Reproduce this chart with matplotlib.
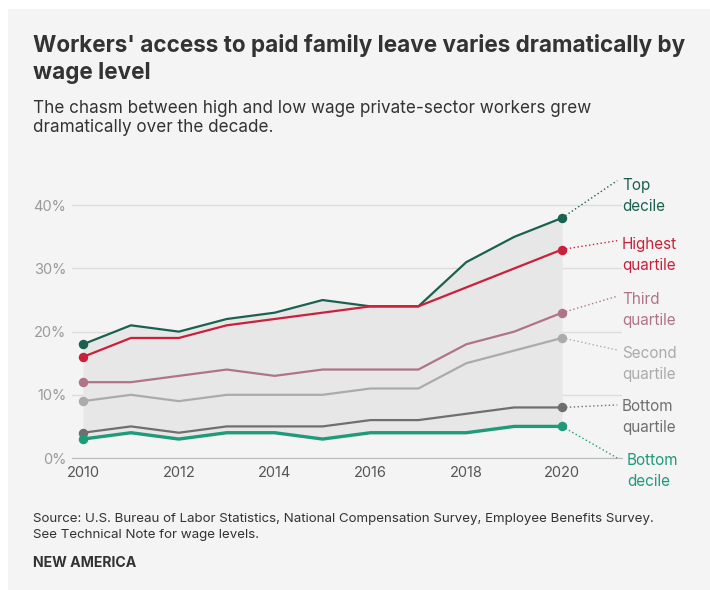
import matplotlib.pyplot as plt
from matplotlib.patches import Rectangle

years = [2010, 2011, 2012, 2013, 2014, 2015, 2016, 2017, 2018, 2019, 2020]

top_decile = [18, 21, 20, 22, 23, 25, 24, 24, 31, 35, 38]
highest_quartile = [16, 19, 19, 21, 22, 23, 24, 24, 27, 30, 33]
third_quartile = [12, 12, 13, 14, 13, 14, 14, 14, 18, 20, 23]
second_quartile = [9, 10, 9, 10, 10, 10, 11, 11, 15, 17, 19]
bottom_quartile = [4, 5, 4, 5, 5, 5, 6, 6, 7, 8, 8]
bottom_decile = [3, 4, 3, 4, 4, 3, 4, 4, 4, 5, 5]

names = ["Top\ndecile", "Highest\nquartile", "Third\nquartile",
         "Second\nquartile", "Bottom\nquartile", "Bottom\ndecile"]
series = [top_decile, highest_quartile, third_quartile,
          second_quartile, bottom_quartile, bottom_decile]
colors = ["#1b6150", "#c9203b", "#b07487", "#ababab", "#6f6f6f", "#1f9a7a"]
widths = [1.6, 1.6, 1.6, 1.6, 1.6, 2.4]

plt.rcParams['font.family'] = ['Inter', 'DejaVu Sans']

fig = plt.figure(figsize=(7.1, 5.9), dpi=100)
fig.patches.append(Rectangle((8 / 710, 0), 1, 1 - 9 / 590, transform=fig.transFigure,
                             facecolor="#f4f4f4", edgecolor="none", zorder=-10))

# axes placed so that 0% sits at y=458px, x from 72px to 622px
ax = fig.add_axes([72 / 710, 132 / 590, 550 / 710, 278 / 590])
ax.set_facecolor("none")
ax.set_xlim(2009.77, 2021.25)
ax.set_ylim(0, 44)

ax.fill_between(years, bottom_decile, top_decile, color="#e7e7e7", lw=0, zorder=1)

for vals, c, w in zip(series, colors, widths):
    ax.plot(years, vals, color=c, lw=w, zorder=3)
    ax.plot([years[0], years[-1]], [vals[0], vals[-1]], 'o', color=c, ms=5.8, zorder=4)

# labels on the right with dotted leaders
label_y = [41.5, 32.2, 23.4, 14.8, 6.5, -2.1]
leader_end = [43.9, 34.4, 25.6, 17.1, 8.4, 0.0]
for vals, c, name, ly, le, i in zip(series, colors, names, label_y, leader_end, range(6)):
    lx = 2021.25 if i < 5 else 2021.35
    ax.plot([years[-1], 2021.15], [vals[-1], le], ls=(0, (1, 1.8)), color=c, lw=1.0,
            clip_on=False, zorder=4)
    ax.text(lx, ly, name, color=c, fontsize=11, va="center", ha="left",
            linespacing=1.5, clip_on=False)

ax.set_yticks([0, 10, 20, 30, 40])
ax.set_yticklabels(["0%", "10%", "20%", "30%", "40%"])
ax.set_xticks([2010, 2012, 2014, 2016, 2018, 2020])
ax.grid(axis="y", color="#dddddd", lw=1)
ax.set_axisbelow(True)
for s in ["top", "right", "left"]:
    ax.spines[s].set_visible(False)
ax.spines["bottom"].set_color("#bbbbbb")
ax.tick_params(axis="y", length=0, pad=4, labelcolor="#9a9a9a", labelsize=10.5)
ax.tick_params(axis="x", length=0, pad=6, labelcolor="#555555", labelsize=10.5)

fig.text(33 / 710, 1 - 59 / 590, "Workers' access to paid family leave varies dramatically by\nwage level",
         fontsize=16.2, fontweight="bold", color="#333333", va="center", linespacing=1.25)
fig.text(33 / 710, 1 - 118 / 590, "The chasm between high and low wage private-sector workers grew\ndramatically over the decade.",
         fontsize=12.3, color="#333333", va="center", linespacing=1.2)
fig.text(33 / 710, 1 - 527 / 590, "Source: U.S. Bureau of Labor Statistics, National Compensation Survey, Employee Benefits Survey.\nSee Technical Note for wage levels.",
         fontsize=9.6, color="#333333", va="center", linespacing=1.35)
fig.text(33 / 710, 1 - 563 / 590, "NEW AMERICA", fontsize=10.2, fontweight="bold",
         color="#333333", va="center")

fig.savefig("out.png", dpi=100)
